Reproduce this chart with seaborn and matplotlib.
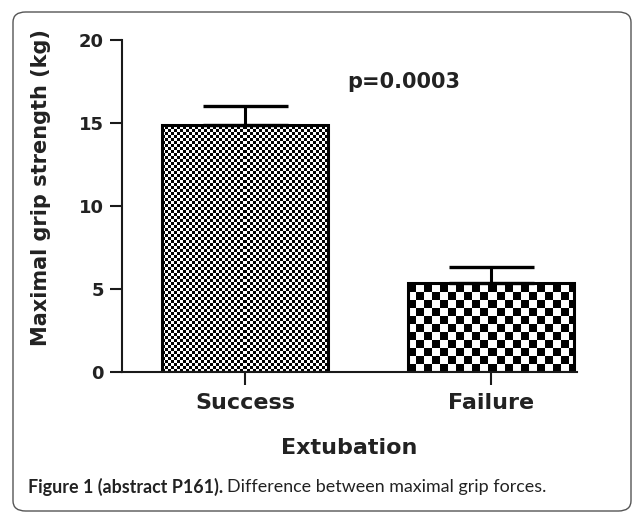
import numpy as np
import pandas as pd
import matplotlib
matplotlib.use("Agg")
import matplotlib.pyplot as plt
from matplotlib.patches import FancyBboxPatch
import seaborn as sns

# Grip strength by extubation outcome
groups = ["Success", "Failure"]
means = [14.85, 5.35]
sem = [1.15, 1.0]
cell_px = [3, 8]          # checker square size for each bar's fill
y_ticks = [0, 5, 10, 15, 20]
p_text = "p=0.0003"

sns.set_theme(style="white")
plt.rcParams["font.family"] = ["DejaVu Sans"]

W, H, DPI = 633, 512, 100
fig = plt.figure(figsize=(W / DPI, H / DPI), dpi=DPI)
ax_l, ax_r, ax_b, ax_t = 122, 577, 372, 40
ax = fig.add_axes([ax_l / W, (H - ax_b) / H, (ax_r - ax_l) / W, (ax_b - ax_t) / H])

df = pd.DataFrame({"group": groups, "mean": means})
sns.barplot(data=df, x="group", y="mean", ax=ax, width=0.675,
            facecolor="none", edgecolor="black", linewidth=2.2, zorder=2)

ax.set_xlim(-0.502, 1.348)
ax.set_ylim(0, 20)

# upper error bars only
ax.errorbar(x=np.arange(len(groups)), y=means, yerr=[np.zeros(len(groups)), sem],
            fmt="none", ecolor="black", elinewidth=2.2, capsize=30.6, capthick=2.4,
            zorder=3)

# checkerboard fill, one image pixel per device pixel, clipped to each bar
fig.canvas.draw()
for patch, c in zip(ax.patches, cell_px):
    x0, y0 = patch.get_x(), patch.get_y()
    w, h = patch.get_width(), patch.get_height()
    (px0, py0), (px1, py1) = ax.transData.transform([(x0, y0), (x0 + w, y0 + h)])
    nx, ny = int(round(px1 - px0)), int(round(py1 - py0))
    jj, ii = np.meshgrid(np.arange(nx), np.arange(ny))
    board = ((jj // c + ii // c) % 2).astype(float)
    im = ax.imshow(board, cmap="gray", vmin=0, vmax=1, interpolation="nearest",
                   extent=(x0, x0 + w, y0, y0 + h), origin="lower",
                   aspect="auto", zorder=1)
    im.set_clip_path(patch)
ax.set_xlim(-0.502, 1.348)
ax.set_ylim(0, 20)

# axes styling
for side in ["top", "right"]:
    ax.spines[side].set_visible(False)
for side in ["left", "bottom"]:
    ax.spines[side].set_linewidth(1.5)
    ax.spines[side].set_color("#1a1a1a")
ax.set_yticks(y_ticks)
ax.tick_params(axis="both", direction="out", length=9, width=1.5, color="#1a1a1a",
               left=True, bottom=True)
ax.tick_params(axis="y", pad=4, labelsize=13)
ax.tick_params(axis="x", pad=6, labelsize=16)
for lab in ax.get_yticklabels() + ax.get_xticklabels():
    lab.set_fontweight("bold")
    lab.set_color("#222222")

ax.set_xlabel("Extubation", fontsize=16, fontweight="bold", color="#222222")
ax.set_ylabel("Maximal grip strength (kg)", fontsize=15, fontweight="bold", color="#222222")
ax.xaxis.set_label_coords(0.5, -0.2)
ax.yaxis.set_label_coords(-0.155, 0.555)

ax.text(0.644, 17.5, p_text, ha="center", va="center", fontsize=15,
        fontweight="bold", color="#222222")

# rounded frame and caption
frame = FancyBboxPatch((13 / W, 1 - 511 / H), 618 / W, 499 / H,
                       boxstyle="round,pad=0,rounding_size=0.02",
                       transform=fig.transFigure, fill=False,
                       edgecolor="#555555", linewidth=1.0)
fig.patches.append(frame)

cap_y = 1 - 487 / H
t1 = fig.text(28 / W, cap_y, "Figure 1 (abstract P161).", ha="left", va="center",
              fontsize=12.9, fontweight="bold", family=["Lato", "DejaVu Sans"],
              color="#222222")
fig.canvas.draw()
bb = t1.get_window_extent()
fig.text((bb.x1 + 4) / W, cap_y, "Difference between maximal grip forces.",
         ha="left", va="center", fontsize=12.9, family=["Lato", "DejaVu Sans"],
         color="#222222")

fig.savefig("out.png", dpi=DPI)
